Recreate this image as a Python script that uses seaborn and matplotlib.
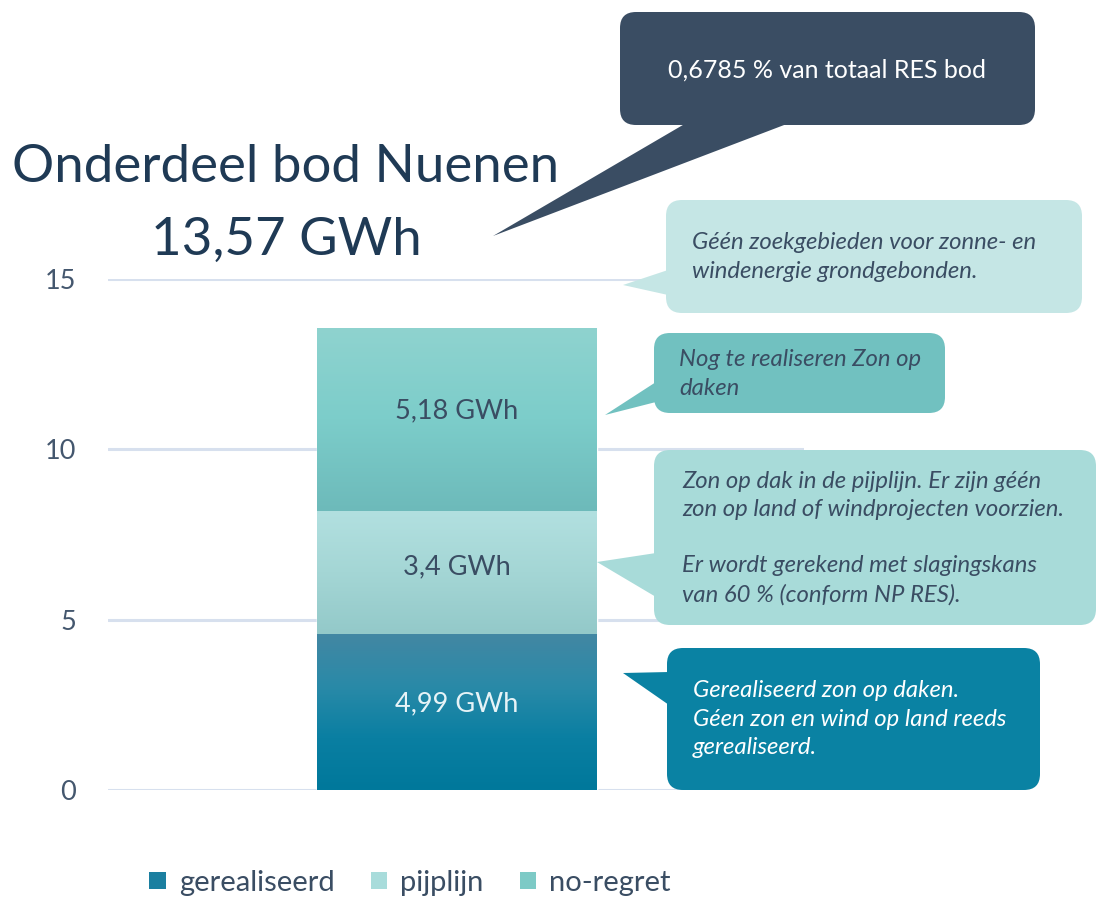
import matplotlib
matplotlib.use("Agg")
import matplotlib.pyplot as plt
from matplotlib.colors import LinearSegmentedColormap
from matplotlib.patches import FancyBboxPatch, Polygon, Patch
from matplotlib.transforms import Affine2D
import numpy as np
import pandas as pd
import seaborn as sb

# data
series = ["gerealiseerd", "pijplijn", "no-regret"]
values = [4.58, 3.61, 5.37]  # drawn heights (GWh)
value_labels = ["4,99 GWh", "3,4 GWh", "5,18 GWh"]
category = ["Nuenen"]
title_lines = ["Onderdeel bod Nuenen", "13,57 GWh"]
yticks = [0, 5, 10, 15]

callout_texts = [
    "0,6785 % van totaal RES bod",
    "Géén zoekgebieden voor zonne- en\nwindenergie grondgebonden.",
    "Nog te realiseren Zon op\ndaken",
    "Zon op dak in de pijplijn. Er zijn géén\nzon op land of windprojecten voorzien.\n\nEr wordt gerekend met slagingskans\nvan 60 % (conform NP RES).",
    "Gerealiseerd zon op daken.\nGéen zon en wind op land reeds\ngerealiseerd.",
]

solid = ["#1b7fa0", "#a8dcdb", "#7dcac6"]
grads = [
    ["#00789b", "#0a7fa2", "#2a8aa8", "#4387a3"],
    ["#93c9c9", "#a4d6d5", "#b2e0e0"],
    ["#6dbaba", "#7ccdca", "#8fd3cf"],
]
label_col = ["#e6f3f7", "#3a4d63", "#3a4d63"]

W, H = 1096, 899
sb.set_theme(style="white")
plt.rcParams["font.family"] = ["Lato", "DejaVu Sans"]

fig = plt.figure(figsize=(W / 100, H / 100), dpi=100)
ax = fig.add_axes([108 / W, 1 - 790 / H, (804 - 108) / W, (790 - 279) / H])

bottoms = np.concatenate([[0], np.cumsum(values)[:-1]])
tops = np.cumsum(values)

# layered stacked bars, tallest first
for i in range(len(series) - 1, -1, -1):
    df = pd.DataFrame({"cat": category, "val": [tops[i]]})
    sb.barplot(data=df, x="cat", y="val", color=solid[i], width=0.8,
               saturation=1, ax=ax, zorder=2)

bar = ax.patches[0]
x0, w = bar.get_x(), bar.get_width()
for i in range(len(series)):
    cmap = LinearSegmentedColormap.from_list("g%d" % i, grads[i])
    ax.imshow(np.linspace(0, 1, 256).reshape(-1, 1), cmap=cmap, origin="lower",
              extent=[x0, x0 + w, bottoms[i], tops[i]], aspect="auto", zorder=3)
    ax.text(x0 + w / 2, bottoms[i] + values[i] * 0.55, value_labels[i],
            ha="center", va="center", fontsize=19.5, color=label_col[i], zorder=4)

ax.set_xlim(-0.997, 0.992)
ax.set_ylim(0, 15)
ax.set_yticks(yticks)
ax.set_yticklabels([str(t) for t in yticks])
ax.set_xticks([])
ax.set_xlabel("")
ax.set_ylabel("")
ax.grid(axis="y", color="#d7e0ee", linewidth=2.2, zorder=0)
ax.set_axisbelow(True)
for s in ax.spines.values():
    s.set_visible(False)
ax.tick_params(axis="y", length=0, pad=23, labelsize=19.5, labelcolor="#44576e")

# pixel transform (origin top-left)
px = Affine2D().scale(1, -1).translate(0, H).scale(0.01) + fig.dpi_scale_trans

fig.text(286, 168, title_lines[0], transform=px, ha="center", va="center",
         fontsize=38, color="#1f3a55")
fig.text(286, 240, title_lines[1], transform=px, ha="center", va="center",
         fontsize=38, color="#1f3a55")

boxes = [
    # (x0, y0, x1, y1, tail, color)
    (620, 12, 1035, 125, [(688, 122), (493, 236), (792, 122)], "#3a4d63"),
    (666, 200, 1082, 313, [(668, 270), (623, 285), (668, 295)], "#c5e6e5"),
    (654, 333, 945, 413, [(656, 382), (605, 415), (656, 402)], "#71c1c0"),
    (654, 450, 1096, 625, [(656, 553), (597, 562), (656, 597)], "#a8dbd9"),
    (667, 648, 1040, 790, [(669, 672), (623, 673), (669, 705)], "#0a82a3"),
]
text_pos = [(827, 70, "center"), (692, 257, "left"), (679, 374, "left"),
            (682, 538, "left"), (693, 719, "left")]
text_col = ["white", "#3a4d63", "#3a4d63", "#3a4d63", "white"]
text_style = ["normal", "italic", "italic", "italic", "italic"]
text_size = [18, 17.2, 17.2, 17.2, 17.2]

for (bx0, by0, bx1, by1, tail, col), (tx, ty, ha), tc, st, fs, txt in zip(
        boxes, text_pos, text_col, text_style, text_size, callout_texts):
    fig.patches.append(FancyBboxPatch((bx0, by0), bx1 - bx0, by1 - by0,
                                      boxstyle="round,pad=0,rounding_size=16",
                                      transform=px, facecolor=col, edgecolor="none"))
    fig.patches.append(Polygon(tail, closed=True, transform=px,
                               facecolor=col, edgecolor="none"))
    fig.text(tx, ty, txt, transform=px, ha=ha, va="center", fontsize=fs,
             color=tc, style=st, linespacing=1.42)

handles = [Patch(facecolor=c, edgecolor="none") for c in solid]
fig.legend(handles, series, loc="center", bbox_to_anchor=(410 / W, 1 - 883 / H),
           ncol=3, frameon=False, fontsize=21, handlelength=0.55, handleheight=0.55,
           handletextpad=0.45, columnspacing=1.25, labelcolor="#3a4d63")

fig.savefig("out.png", dpi=100)
